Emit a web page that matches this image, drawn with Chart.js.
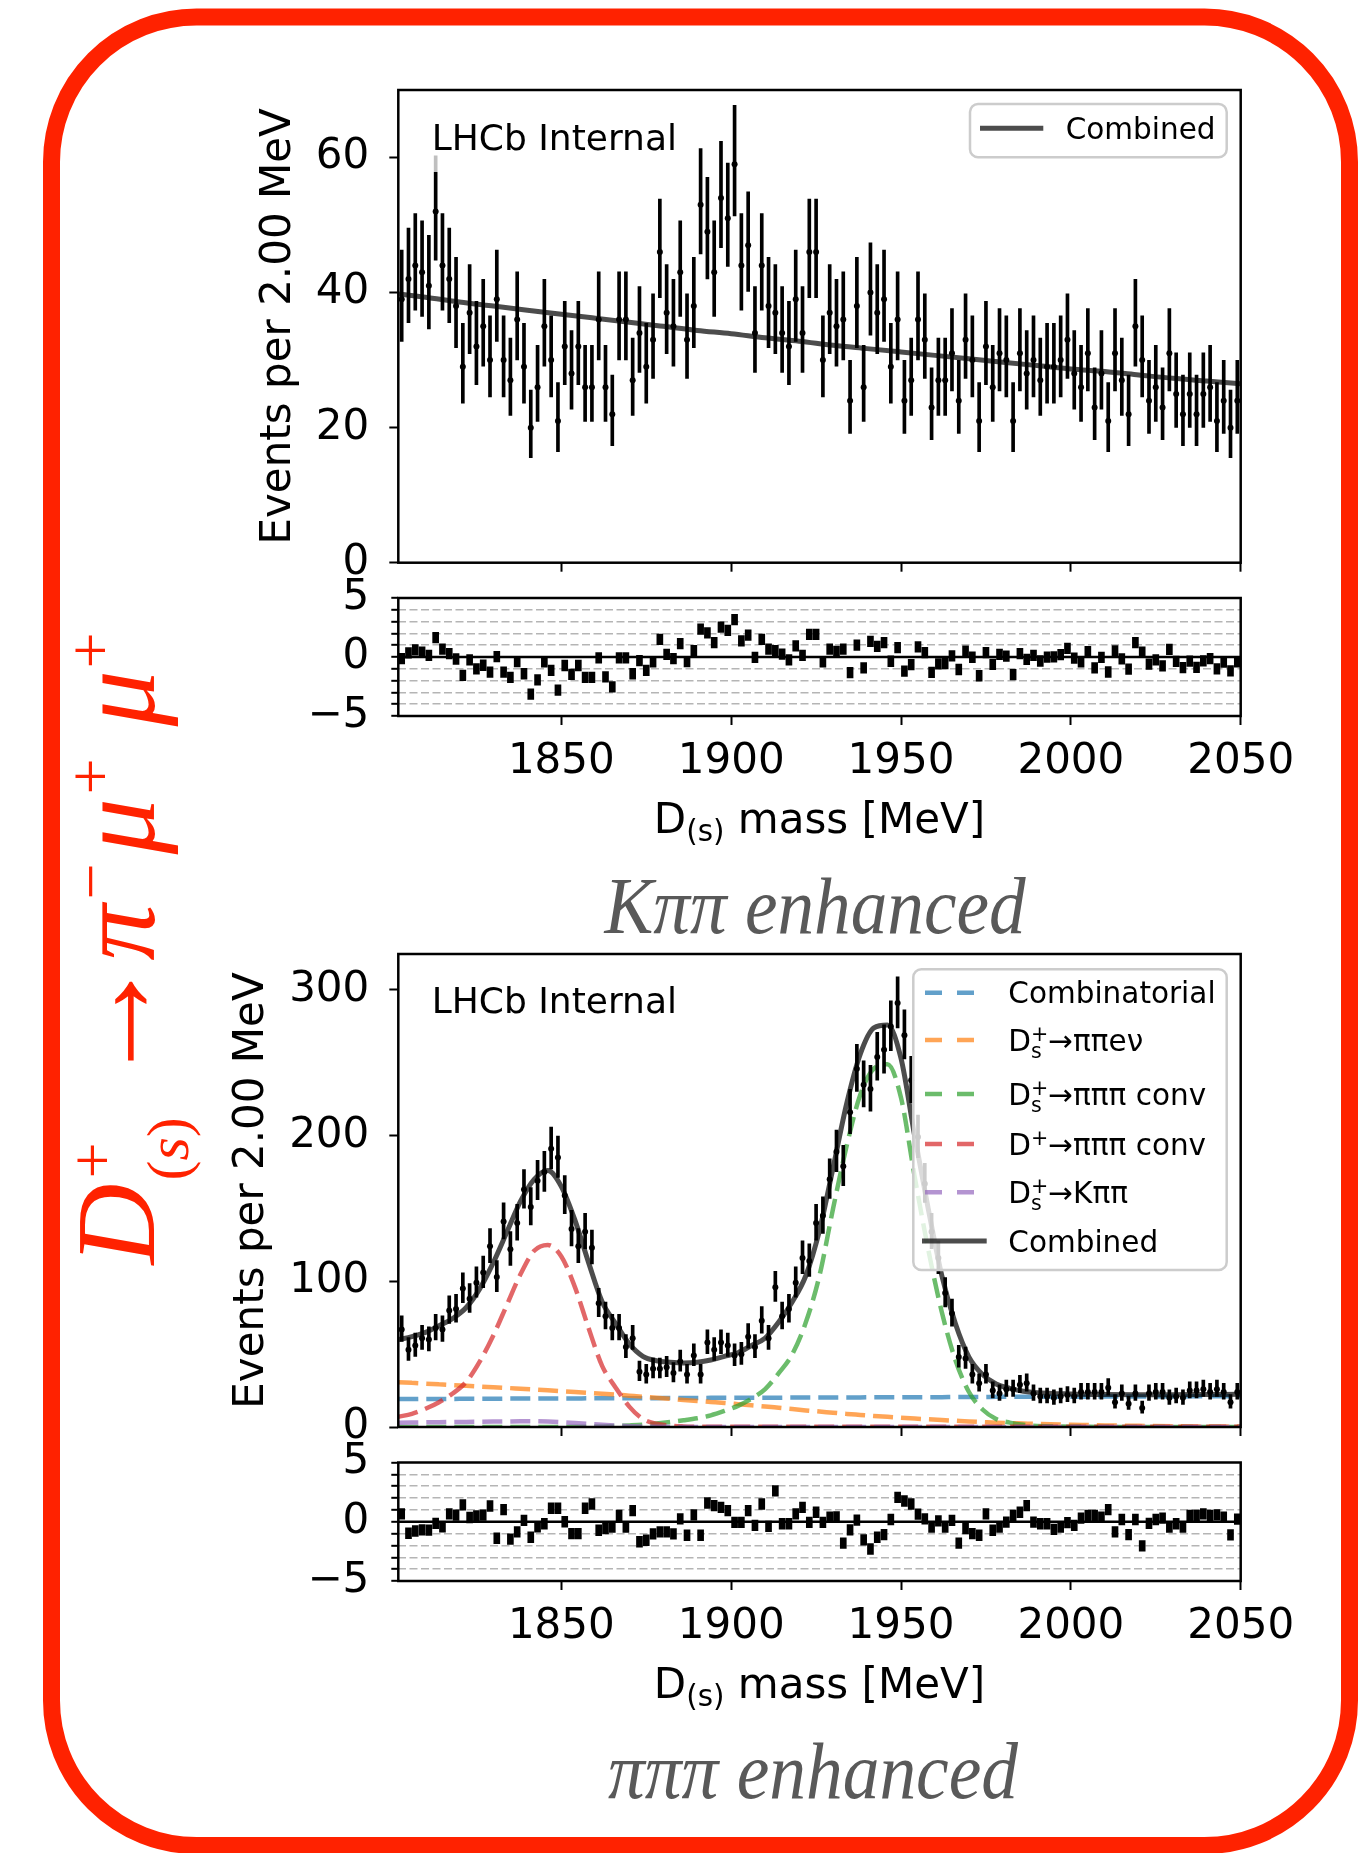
<!DOCTYPE html>
<html>
<head>
<meta charset="utf-8">
<title>D(s)+ to pi- mu+ mu+ mass fits</title>
<script src="https://cdn.jsdelivr.net/npm/chart.js@4.4.1/dist/chart.umd.min.js"></script>
<style>
  html, body { margin:0; padding:0; background:#ffffff; }
  body { position:relative; width:1358px; height:1853px; overflow:hidden; }
  canvas { position:absolute; }
  svg#overlay { position:absolute; left:0; top:0; }
</style>
</head>
<body>
<canvas id="kppMain" width="1080" height="573" style="left:200px;top:40px;width:1080px;height:573px"></canvas>
<canvas id="kppPull" width="1120" height="242" style="left:200px;top:548px;width:1120px;height:242px"></canvas>
<canvas id="pppMain" width="1080" height="573" style="left:200px;top:904px;width:1080px;height:573px"></canvas>
<canvas id="pppPull" width="1120" height="248" style="left:200px;top:1412px;width:1120px;height:248px"></canvas>

<svg id="overlay" width="1358" height="1853" viewBox="0 0 1358 1853" xmlns="http://www.w3.org/2000/svg" font-family="DejaVu Sans, sans-serif">
  <rect x="51.5" y="17" width="1298" height="1828.5" rx="145" ry="145" fill="none" stroke="#ff2200" stroke-width="17"/>

  <rect x="422" y="100" width="262" height="72" fill="#ffffff" fill-opacity="0.75"/>
  <text x="431.7" y="150" font-size="36" fill="#000">LHCb Internal</text>
  <text x="431.7" y="1013.3" font-size="36" fill="#000">LHCb Internal</text>

  <rect x="970" y="104" width="256.7" height="53.3" rx="8" ry="8" fill="#ffffff" fill-opacity="0.8" stroke="#cccccc" stroke-width="2.5"/>
  <line x1="980" y1="128.3" x2="1043.3" y2="128.3" stroke="rgba(0,0,0,0.7)" stroke-width="5"/>
  <text x="1065.7" y="139" font-size="29.5" fill="#000">Combined</text>

  <rect x="913.3" y="969.3" width="313.4" height="300.7" rx="8" ry="8" fill="#ffffff" fill-opacity="0.8" stroke="#cccccc" stroke-width="2.5"/>
  <line x1="925" y1="992.7" x2="977" y2="992.7" stroke="rgba(31,119,180,0.7)" stroke-width="4.5" stroke-dasharray="17 15"/>
  <line x1="925" y1="1040" x2="977" y2="1040" stroke="rgba(255,127,14,0.7)" stroke-width="4.5" stroke-dasharray="17 15"/>
  <line x1="925" y1="1094" x2="977" y2="1094" stroke="rgba(44,160,44,0.7)" stroke-width="4.5" stroke-dasharray="17 15"/>
  <line x1="925" y1="1144" x2="977" y2="1144" stroke="rgba(214,39,40,0.7)" stroke-width="4.5" stroke-dasharray="17 15"/>
  <line x1="925" y1="1192.3" x2="977" y2="1192.3" stroke="rgba(148,103,189,0.7)" stroke-width="4.5" stroke-dasharray="17 15"/>
  <line x1="922" y1="1241" x2="986.7" y2="1241" stroke="rgba(0,0,0,0.7)" stroke-width="5"/>
  <g font-size="29.5" fill="#000">
    <text x="1008.3" y="1003.4">Combinatorial</text>
    <text x="1008.3" y="1050.7">D<tspan font-size="20.6" dy="7">s</tspan><tspan font-size="20.6" dx="-10.7" dy="-17">+</tspan><tspan dy="10">→ππeν</tspan></text>
    <text x="1008.3" y="1104.7">D<tspan font-size="20.6" dy="7">s</tspan><tspan font-size="20.6" dx="-10.7" dy="-17">+</tspan><tspan dy="10">→πππ conv</tspan></text>
    <text x="1008.3" y="1154.7">D<tspan font-size="20.6" dy="-10">+</tspan><tspan dy="10">→πππ conv</tspan></text>
    <text x="1008.3" y="1203">D<tspan font-size="20.6" dy="7">s</tspan><tspan font-size="20.6" dx="-10.7" dy="-17">+</tspan><tspan dy="10">→Kππ</tspan></text>
    <text x="1008.3" y="1251.7">Combined</text>
  </g>

  <text x="819.5" y="833" font-size="42" text-anchor="middle" fill="#000" xml:space="preserve">D<tspan font-size="29.4" dy="8">(s)</tspan><tspan dy="-8"> mass [MeV]</tspan></text>
  <text x="819.5" y="1698" font-size="42" text-anchor="middle" fill="#000" xml:space="preserve">D<tspan font-size="29.4" dy="8">(s)</tspan><tspan dy="-8"> mass [MeV]</tspan></text>

  <text x="815" y="933" font-family="Liberation Serif, serif" font-style="italic" font-size="80" fill="#595959" text-anchor="middle" textLength="421" lengthAdjust="spacingAndGlyphs">Kππ enhanced</text>
  <text x="813" y="1798" font-family="Liberation Serif, serif" font-style="italic" font-size="80" fill="#595959" text-anchor="middle" textLength="410" lengthAdjust="spacingAndGlyphs">πππ enhanced</text>

  <g transform="translate(153.6 1264.6) rotate(-90)" fill="#ff2200" font-family="Liberation Serif, serif">
    <text x="0" y="0" font-size="112" font-style="italic">D</text>
    <text x="86" y="-40" font-size="64">+</text>
    <text x="84" y="34" font-size="60">(<tspan font-style="italic">s</tspan>)</text>
    <text x="177" y="-1" font-size="133">→</text>
    <text x="304" y="0" font-size="112" font-style="italic">π</text>
    <text x="365" y="-42" font-size="64">−</text>
    <text x="410" y="0" font-size="112" font-style="italic">μ</text>
    <text x="470" y="-42" font-size="64">+</text>
    <text x="538" y="0" font-size="112" font-style="italic">μ</text>
    <text x="596" y="-42" font-size="64">+</text>
  </g>
</svg>

<script>
// ---------------- data ----------------
const X_MIN = 1802, X_MAX = 2050;
const BIN_START = 1803, BIN_WIDTH = 2;          // 2 MeV bins, first bin centre
const X_TICKS = [1850, 1900, 1950, 2000, 2050];
const KPP_Y_TICKS = [0, 20, 40, 60];
const PPP_Y_TICKS = [0, 100, 200, 300];
const PULL_Y_TICKS = [-5, -4, -3, -2, -1, 0, 1, 2, 3, 4, 5];
const PULL_Y_LABELLED = [-5, 0, 5];
const KPP_Y_MAX = 70, PPP_Y_MAX = 324.7, PULL_LIMIT = 5;

// K pi pi enhanced sample: events per bin
const KPP_COUNTS = [
  39,42,44,43,41,52,44,42,38,29, 37,32,35,30,39,30,27,36,29,20,
  26,35,30,21,32,28,32,26,26,36, 26,22,36,36,27,34,29,33,46,37,
  35,43,33,38,53,49,43,54,51,59, 44,47,34,44,38,37,34,32,39,34,
  46,46,30,37,
  35,36,24,38,26,40,37,39,29,36, 24,27,36,33,23,27,27,31,24,33,
  30,21,32,26,31,30,21,31,28,30, 27,29,29,30,33,28,26,31,23,28,
  21,31,27,22,35,30,24,26,23,31, 25,22,25,22,25,26,21,24,20,24
];
// K pi pi enhanced sample: pulls
const KPP_PULLS = [
  -0.14,0.35,0.6,0.42,0.14,1.64,0.67,0.28,-0.17,-1.56, -0.25,-1.0,-0.7,-1.28,0.03,-1.28,-1.72,-0.39,-1.42,-3.14,
  -1.94,-0.42,-1.14,-2.8,-0.72,-1.47,-0.72,-1.72,-1.72,-0.08, -1.69,-2.53,-0.08,-0.08,-1.42,-0.3,-1.14,-0.42,1.5,0.22,
  -0.14,1.14,-0.39,0.53,2.36,2.05,1.22,2.53,2.25,3.17, 1.36,1.86,-0.03,1.5,0.67,0.53,0.25,-0.25,0.94,0.14,
  1.92,1.92,-0.42,0.67,
  0.48,0.66,-1.33,1.0,-0.93,1.33,0.9,1.22,-0.36,0.8, -1.19,-0.64,0.85,0.38,-1.31,-0.58,-0.56,0.1,-1.06,0.49,
  -0.02,-1.59,0.37,-0.62,0.23,0.07,-1.5,0.28,-0.21,0.14, -0.34,-0.01,0.01,0.21,0.74,-0.1,-0.41,0.46,-0.92,-0.04,
  -1.27,0.52,-0.16,-1.02,1.22,0.42,-0.61,-0.25,-0.76,0.65, -0.37,-0.9,-0.35,-0.87,-0.32,-0.13,-1.01,-0.44,-1.18,-0.42
];
// K pi pi enhanced sample: combined fit curve
const KPP_FIT_X = [1802,1810,1820,1830,1840,1850,1860,1870,1880,1890,1900,1910,1920,1930,1940,1950,1960,1970,1980,1990,2000,2010,2020,2030,2040,2050];
const KPP_FIT_Y = [39.8,39.3,38.6,38.0,37.4,36.8,36.2,35.6,35.0,34.4,33.9,33.3,32.8,32.2,31.7,31.2,30.7,30.2,29.7,29.2,28.7,28.3,27.8,27.3,26.9,26.5];

// pi pi pi enhanced sample: events per bin
const PPP_COUNTS = [
  67,53,56,61,60,68,67,80,81,95, 88,99,106,124,103,141,122,140,163,151,
  169,175,191,185,159,136,124,134,123,85, 76,68,68,55,61,38,36,40,40,41,
  37,45,36,49,36,58,53,58,56,49, 50,62,55,73,61,96,76,81,99,116,
  114,140,145,170,
  189,179,216,246,235,232,254,259,275,291, 269,238,199,167,134,116,92,78,48,47,
  36,30,36,25,23,26,26,29,30,23, 21,21,20,21,22,21,24,24,24,24,
  27,17,23,16,23,13,23,24,24,20, 21,20,25,25,26,24,26,24,17,24
];
// pi pi pi enhanced sample: pulls
const PPP_PULLS = [
  0.67,-0.97,-0.78,-0.69,-0.7,-0.14,-0.42,0.67,0.56,1.42, 0.36,0.5,0.56,1.33,-1.39,1.03,-1.47,-0.86,0.11,-1.31,
  -0.42,-0.17,1.14,1.14,0,-1.0,-1.0,1.14,1.5,-0.72, -0.58,-0.44,0.53,-0.44,0.94,-1.69,-1.56,-1.03,-0.86,-0.86,
  -1.03,0.25,-1.14,0.58,-1.14,1.58,1.36,1.22,0.94,-0.06, -0.06,0.94,-0.3,1.5,-0.39,2.61,-0.17,-0.17,0.67,1.22,
  -0.06,0.8,-0.06,0.39,
  0.4,-1.81,-0.69,0.14,-1.53,-2.3,-1.31,-1.08,0.19,2.06, 1.75,1.5,0.64,0.25,-0.44,0.08,-0.44,0.11,-1.81,-0.58,
  -1.0,-1.14,0.67,-0.72,-0.44,-0.03,0.53,0.8,1.36,-0.03, -0.17,-0.17,-0.64,-0.44,-0.08,-0.3,0.31,0.53,0.53,0.39,
  1.03,-0.86,0.19,-1.08,0.19,-2.03,-0.14,0.19,0.31,-0.44, -0.17,-0.44,0.53,0.53,0.67,0.53,0.58,0.39,-1.11,0.22
];
// pi pi pi enhanced sample: fit components
const PPP_CURVE_X = [1802,1806,1810,1814,1818,1822,1826,1830,1834,1838,1842,1846,1850,1854,1858,1862,1866,1870,1874,1878,
  1882,1886,1890,1894,1898,1902,1906,1910,1914,1918,1922,1926,1930,1934,1938,1942,1946,1950,1954,1958,
  1962,1966,1970,1974,1978,1982,1986,1990,2000,2010,2020,2030,2040,2050];
const PPP_COMBINATORIAL = [19.2,19.2,19.3,19.3,19.3,19.4,19.4,19.4,19.5,19.5,19.5,19.6,19.6,19.6,19.7,19.7,19.7,19.8,19.8,19.8,
  19.9,19.9,19.9,20.0,20.0,20.0,20.1,20.1,20.1,20.2,20.2,20.2,20.3,20.3,20.3,20.4,20.4,20.4,20.5,20.5,
  20.5,20.6,20.6,20.6,20.7,20.7,20.7,20.8,20.8,20.9,21.0,21.0,21.1,21.2];
const PPP_DS_PIPIENU = [30.8,30.3,29.8,29.3,28.8,28.3,27.8,27.3,26.8,26.3,25.8,25.2,24.6,24.0,23.4,22.8,22.2,21.5,20.8,20.0,
  19.3,18.6,17.9,17.2,16.5,15.7,14.9,14.1,13.2,12.3,11.4,10.6,9.8,9.0,8.3,7.6,7.0,6.4,5.8,5.3,
  4.8,4.3,3.8,3.4,3.0,2.7,2.4,2.1,1.6,1.1,0.8,0.5,0.35,0.25];
const PPP_DS_PIPIPI = [0,0,0,0,0,0,0,0,0,0,0,0,0.05,0.1,0.2,0.4,0.7,1.1,1.6,2.4,
  3.4,4.6,6,8,11,14.5,19.5,26,37,50,72,104,150,193,228,246,249,226,172,122,
  79,46,24,12,5.5,3,1.5,0.7,0.2,0.05,0.02,0.01,0.01,0.01];
const PPP_DP_PIPIPI = [7,9,12.5,17,23,31,45,63,84,105,121,125,117,96,68,42,27,14,5.5,2.2,
  0.9,0.4,0.2,0.1,0.1,0.1,0.1,0.1,0.1,0.1,0.1,0.1,0.1,0.1,0.1,0.1,0.1,0.1,0.1,0.1,
  0.1,0.1,0.1,0.1,0.1,0.1,0.1,0.1,0.1,0.1,0.1,0.1,0.1,0.1];
const PPP_DS_KPIPI = [3.0,3.1,3.2,3.3,3.4,3.5,3.6,3.7,3.8,3.9,3.9,3.7,3.3,2.7,2.1,1.5,1.0,0.6,0.3,0.15,
  0.1,0.05,0.05,0.05,0.05,0.05,0.05,0.05,0.05,0.05,0.05,0.05,0.05,0.05,0.05,0.05,0.05,0.05,0.05,0.05,
  0.05,0.05,0.05,0.05,0.05,0.05,0.05,0.05,0.05,0.05,0.05,0.05,0.05,0.05];
const PPP_COMBINED = [60,62,65,69.5,74.5,82,95,113,134,155,170,176,165,142,113,86,71,57,48.5,45.5,
  44.5,44,44.5,46,48.5,51,56,61,72,86,104,135,178,222,256,274,276,253,200,150,
  104,71,48,36,29.5,26.5,24.6,23.6,22.7,22.3,22.2,22.2,22.3,22.4];

// ---------------- styling ----------------
const FONT = 'DejaVu Sans';
const C_BLUE = 'rgba(31,119,180,0.7)', C_ORANGE = 'rgba(255,127,14,0.7)', C_GREEN = 'rgba(44,160,44,0.7)',
      C_RED = 'rgba(214,39,40,0.7)', C_PURPLE = 'rgba(148,103,189,0.7)', C_GRAY = 'rgba(0,0,0,0.7)';
Chart.defaults.font.family = FONT;

const binX = i => BIN_START + i * BIN_WIDTH;
const errLow = n => Math.sqrt(Math.max(n - 0.25, 0));     // asymmetric Poisson interval
const errHigh = n => 1 + Math.sqrt(n + 0.75);

const axesFrame = {
  id: 'axesFrame',
  afterDraw(chart) {
    const {ctx, chartArea: a} = chart;
    ctx.save();
    ctx.strokeStyle = '#000'; ctx.lineWidth = 2.5;
    ctx.strokeRect(a.left, a.top, a.right - a.left, a.bottom - a.top);
    ctx.restore();
  }
};

function xScale(showLabels, axisH) {
  return {
    type: 'linear', min: X_MIN, max: X_MAX, offset: false,
    border: {display: false},
    grid: {display: true, offset: false, drawOnChartArea: false, drawTicks: true, tickLength: 9, tickWidth: 2, tickColor: '#000'},
    ticks: {autoSkip: false, maxRotation: 0, minRotation: 0, padding: 12, color: '#000', font: {family: FONT, size: 42},
            callback: v => showLabels ? String(v) : ''},
    afterBuildTicks: ax => { ax.ticks = X_TICKS.map(v => ({value: v})); },
    afterFit: ax => { ax.height = axisH; }
  };
}
function yMain(max, tickVals, titlePad) {
  return {
    type: 'linear', min: 0, max: max,
    border: {display: false},
    grid: {drawOnChartArea: false, drawTicks: true, tickLength: 9, tickWidth: 2, tickColor: '#000'},
    ticks: {autoSkip: false, padding: 20, color: '#000', font: {family: FONT, size: 42}, callback: v => String(v)},
    afterBuildTicks: ax => { ax.ticks = tickVals.map(v => ({value: v})); },
    title: {display: true, text: 'Events per 2.00 MeV', color: '#000', font: {family: FONT, size: 42}, padding: {top: titlePad, bottom: 0}},
    afterFit: ax => { ax.width = 198.3; }
  };
}
function yPull() {
  return {
    type: 'linear', min: -PULL_LIMIT, max: PULL_LIMIT,
    border: {display: false, dash: [8, 3.5]},
    grid: {drawOnChartArea: true, drawTicks: true, tickLength: 7, tickWidth: 2, tickColor: '#000', lineWidth: 1.6,
           borderDash: [8, 3.5],
           color: c => { const v = c.tick ? c.tick.value : 0; return (Math.abs(v) >= 1 && Math.abs(v) <= 4) ? '#b5b5b5' : 'rgba(0,0,0,0)'; }},
    ticks: {autoSkip: false, padding: 22, color: '#000', font: {family: FONT, size: 42},
            callback: v => PULL_Y_LABELLED.includes(v) ? (v < 0 ? '\u2212' + Math.abs(v) : String(v)) : ''},
    afterBuildTicks: ax => { ax.ticks = PULL_Y_TICKS.map(v => ({value: v})); },
    afterFit: ax => { ax.width = 198.3; }
  };
}
function baseOptions(pad, scales) {
  return {
    responsive: false, animation: false, devicePixelRatio: 1,
    layout: {padding: pad},
    plugins: {legend: {display: false}, tooltip: {enabled: false}},
    scales: scales
  };
}
function dataSets(counts) {
  return [
    {type: 'scatter', data: counts.map((n, i) => ({x: binX(i), y: n})), pointRadius: 3, pointBackgroundColor: '#000',
     pointBorderWidth: 0, order: 0},
    {type: 'bar', data: counts.map((n, i) => ({x: binX(i), y: [n - errLow(n), n + errHigh(n)]})), backgroundColor: '#000',
     barThickness: 3, grouped: false, order: 1}
  ];
}
function curve(xs, ys, color, dashed, order) {
  return {type: 'line', data: xs.map((x, i) => ({x: x, y: ys[i]})), borderColor: color, borderWidth: dashed ? 4.5 : 5,
          borderDash: dashed ? [20, 8] : [], pointRadius: 0, cubicInterpolationMode: 'monotone', fill: false, order: order};
}
function pullSets(pulls) {
  return [
    {type: 'bar', data: pulls.map((p, i) => ({x: binX(i), y: [p - 0.45, p + 0.45]})), backgroundColor: '#000',
     barThickness: 6, grouped: false, order: 0},
    {type: 'line', data: [{x: X_MIN, y: 0}, {x: X_MAX, y: 0}], borderColor: '#000', borderWidth: 2.5, pointRadius: 0, order: 1}
  ];
}

// ---------------- K pi pi enhanced ----------------
new Chart(document.getElementById('kppMain'), {
  type: 'bar',
  data: {datasets: dataSets(KPP_COUNTS).concat([curve(KPP_FIT_X, KPP_FIT_Y, C_GRAY, false, 2)])},
  options: baseOptions({left: 0, right: 39.3, top: 50, bottom: 0},
    {x: xScale(false, 50.3), y: yMain(KPP_Y_MAX, KPP_Y_TICKS, 53.8)}),
  plugins: [axesFrame]
});
new Chart(document.getElementById('kppPull'), {
  type: 'bar',
  data: {datasets: pullSets(KPP_PULLS)},
  options: baseOptions({left: 0, right: 79.3, top: 50, bottom: 0}, {x: xScale(true, 74), y: yPull()}),
  plugins: [axesFrame]
});

// ---------------- pi pi pi enhanced ----------------
new Chart(document.getElementById('pppMain'), {
  type: 'bar',
  data: {datasets: dataSets(PPP_COUNTS).concat([
    curve(PPP_CURVE_X, PPP_COMBINED, C_GRAY, false, 2),
    curve(PPP_CURVE_X, PPP_DS_KPIPI, C_PURPLE, true, 3),
    curve(PPP_CURVE_X, PPP_DP_PIPIPI, C_RED, true, 4),
    curve(PPP_CURVE_X, PPP_DS_PIPIPI, C_GREEN, true, 5),
    curve(PPP_CURVE_X, PPP_DS_PIPIENU, C_ORANGE, true, 6),
    curve(PPP_CURVE_X, PPP_COMBINATORIAL, C_BLUE, true, 7)
  ])},
  options: baseOptions({left: 0, right: 39.3, top: 50, bottom: 0},
    {x: xScale(false, 50), y: yMain(PPP_Y_MAX, PPP_Y_TICKS, 26.8)}),
  plugins: [axesFrame]
});
new Chart(document.getElementById('pppPull'), {
  type: 'bar',
  data: {datasets: pullSets(PPP_PULLS)},
  options: baseOptions({left: 0, right: 79.3, top: 50.5, bottom: 0}, {x: xScale(true, 79), y: yPull()}),
  plugins: [axesFrame]
});
</script>
</body>
</html>
